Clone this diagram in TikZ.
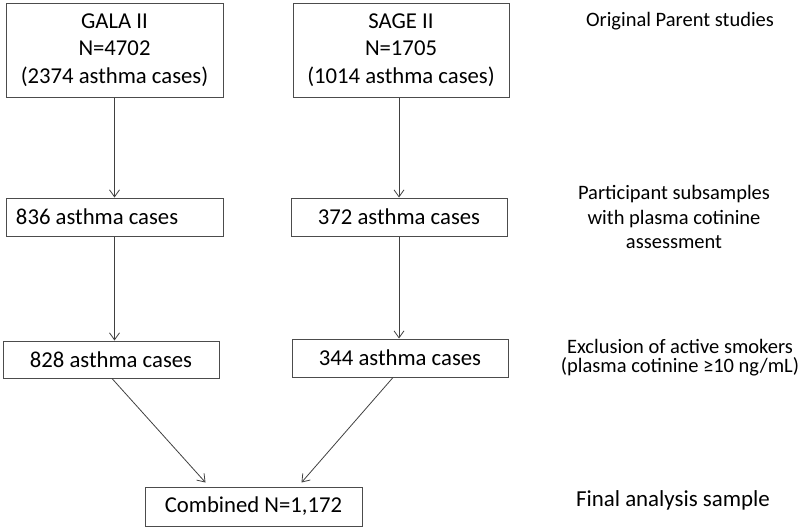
\documentclass[tikz,border=0pt]{standalone}
\usepackage{fontspec}
\setmainfont{Carlito}
\usetikzlibrary{arrows.meta}
\begin{document}
\begin{tikzpicture}[x=1pt,y=-1pt,
  box/.style={draw=black!70, line width=1pt, rectangle, inner sep=0pt, align=center,
    font=\fontsize{22.7}{27.5}\selectfont, text=black},
  lbl/.style={align=center, inner sep=0pt, text=black},
  conn/.style={draw=black!75, line width=0.8pt, -{Straight Barb[length=7pt,width=10pt]}}]
\useasboundingbox (0,0) rectangle (800,528);
% boxes
\node[box, minimum width=217pt, minimum height=94pt] (gala) at (114.5,50) {GALA II\\N=4702\\(2374 asthma cases)};
\node[box, minimum width=216pt, minimum height=94pt] (sage) at (401,50) {SAGE II\\N=1705\\(1014 asthma cases)};
\node[box, minimum height=38pt, text width=197pt, align=flush left, inner xsep=10pt] (b836) at (114.5,217) {836 asthma cases};
\node[box, minimum width=216pt, minimum height=38pt] (b372) at (399,217) {372 asthma cases};
\node[box, minimum width=216pt, minimum height=37pt] (b828) at (111,359.5) {828 asthma cases};
\node[box, minimum width=216pt, minimum height=38pt] (b344) at (400,358) {344 asthma cases};
\node[box, minimum width=217pt, minimum height=39pt] (comb) at (253.5,506.5) {Combined N=1,172};
% side labels
\node[lbl, font=\fontsize{20.5}{24.5}\selectfont] (l1) at (680,21) {Original Parent studies};
\node[lbl, font=\fontsize{20.5}{24.5}\selectfont] (l2) at (674,217) {Participant subsamples\\with plasma cotinine\\assessment};
\node[lbl, font=\fontsize{20.5}{19.5}\selectfont] (l3) at (680,357.5) {Exclusion of active smokers\\(plasma cotinine ≥10 ng/mL)};
\node[lbl, font=\fontsize{22.9}{27}\selectfont] (l4) at (673,500) {Final analysis sample};
% connectors
\draw[conn] (gala.south -| b836.north) -- (b836.north);
\draw[conn] (sage.south -| b372.north) -- (b372.north);
\draw[conn] (b836.south) -- (b836.south |- b828.north);
\draw[conn] (b372.south) -- (b372.south |- b344.north);
\draw[conn] ([xshift=1pt]b828.south) -- ([xshift=61pt,yshift=4pt]comb.north west);
\draw[conn] ([xshift=-7pt]b344.south) -- ([xshift=-61pt,yshift=4pt]comb.north east);
\end{tikzpicture}
\end{document}
